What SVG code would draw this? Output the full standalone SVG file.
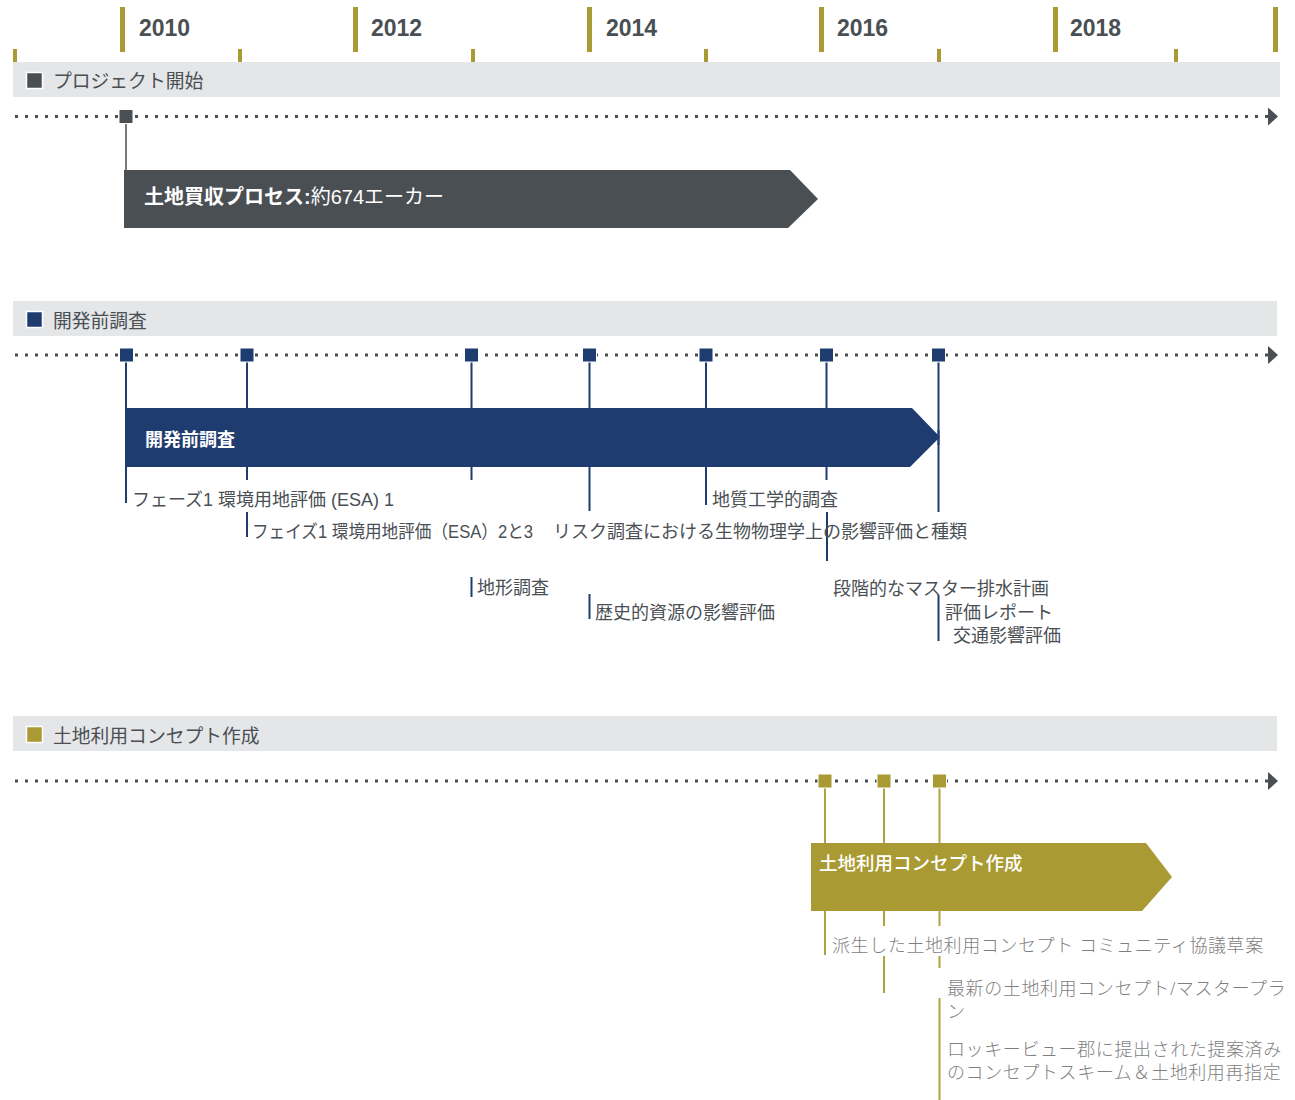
<svg xmlns="http://www.w3.org/2000/svg" width="1295" height="1100" viewBox="0 0 1295 1100">
<style>
.year{font-family:"Liberation Sans",Arial,sans-serif;font-weight:bold;font-size:23px;fill:#4a4f54}
.band{fill:#e5e6e8}
.hdr{font-family:"Liberation Sans","Noto Sans CJK JP",sans-serif;font-size:18.8px;fill:#4a4f54}
.dots{fill:none;stroke:#4a4f54;stroke-width:3;stroke-dasharray:3 7}
.lbl{font-family:"Liberation Sans","Noto Sans CJK JP",sans-serif;font-size:18px;fill:#4a4f54}
.lbl3{font-family:"Liberation Serif","Noto Sans CJK JP",serif;font-size:18px;letter-spacing:0.6px;fill:#7f7f7f;font-weight:300}
.barT{font-family:"Liberation Sans","Noto Sans CJK JP",sans-serif;fill:#ffffff}
.s1{stroke:#4a4f54;stroke-width:1.5}
.s2{stroke:#1f3c70;stroke-width:2}
.s3{stroke:#b0a240;stroke-width:2}
.tkB{fill:#a99a33}
.m1{fill:#4a4f54;stroke:#ffffff;stroke-width:1}
.m2{fill:#1f3c70;stroke:#ffffff;stroke-width:1}
.m3{fill:#a99a33;stroke:#ffffff;stroke-width:1}
</style>
<defs>
<marker id="arr" viewBox="0 0 10 18" refX="0" refY="9" markerWidth="10" markerHeight="18" markerUnits="userSpaceOnUse" orient="auto">
<path d="M0,0 L10,9 L0,18 Z" fill="#4a4f54"/>
</marker>
</defs>
<rect width="1295" height="1100" fill="#ffffff"/>

<g id="axis">
<rect class="tkB" x="120" y="7" width="5" height="45"/>
<rect class="tkB" x="353" y="7" width="5" height="45"/>
<rect class="tkB" x="587" y="7" width="5" height="45"/>
<rect class="tkB" x="819" y="7" width="5" height="45"/>
<rect class="tkB" x="1053" y="7" width="5" height="45"/>
<rect class="tkB" x="1273" y="7" width="5" height="45"/>
<rect class="tkB" x="13" y="49" width="4" height="13"/>
<rect class="tkB" x="238" y="49" width="4" height="13"/>
<rect class="tkB" x="471" y="49" width="4" height="13"/>
<rect class="tkB" x="704" y="49" width="4" height="13"/>
<rect class="tkB" x="937" y="49" width="4" height="13"/>
<rect class="tkB" x="1174" y="49" width="4" height="13"/>
<text class="year" x="139" y="36">2010</text>
<text class="year" x="371" y="36">2012</text>
<text class="year" x="606" y="36">2014</text>
<text class="year" x="837" y="36">2016</text>
<text class="year" x="1070" y="36">2018</text>
</g>

<g id="headers">
<rect class="band" x="13" y="62" width="1267" height="35"/>
<rect x="26.5" y="72.5" width="16" height="16" fill="#4a4f54" stroke="#ffffff" stroke-width="1.5"/>
<text class="hdr" x="53" y="88">プロジェクト開始</text>
<rect class="band" x="13" y="301" width="1264" height="35"/>
<rect x="26.5" y="311.5" width="16" height="16" fill="#1f3c70" stroke="#ffffff" stroke-width="1.5"/>
<text class="hdr" x="53" y="328">開発前調査</text>
<rect class="band" x="13" y="716" width="1264" height="35"/>
<rect x="26.5" y="726.5" width="16" height="16" fill="#a99a33" stroke="#ffffff" stroke-width="1.5"/>
<text class="hdr" x="53" y="743">土地利用コンセプト作成</text>
</g>

<g id="connectors">
<path class="dots" d="M15,116.5 H1268" marker-end="url(#arr)"/>
<path class="dots" d="M15,355 H1268" marker-end="url(#arr)"/>
<path class="dots" d="M15,781 H1268" marker-end="url(#arr)"/>
<line class="s1" x1="126" y1="123" x2="126" y2="170"/>
<line class="s2" x1="126" y1="362" x2="126" y2="503"/>
<line class="s2" x1="247" y1="362" x2="247" y2="480"/>
<line class="s2" x1="471.5" y1="362" x2="471.5" y2="480"/>
<line class="s2" x1="589.5" y1="362" x2="589.5" y2="511"/>
<line class="s2" x1="706" y1="362" x2="706" y2="505"/>
<line class="s2" x1="826.5" y1="362" x2="826.5" y2="480"/>
<line class="s2" x1="938.5" y1="362" x2="938.5" y2="512"/>
<line class="s2" x1="247" y1="512" x2="247" y2="537"/>
<line class="s2" x1="471.5" y1="577" x2="471.5" y2="597"/>
<line class="s2" x1="589.5" y1="594" x2="589.5" y2="619"/>
<line class="s2" x1="827" y1="512" x2="827" y2="561"/>
<line class="s2" x1="938.5" y1="595" x2="938.5" y2="641"/>
<line class="s3" x1="825" y1="788" x2="825" y2="955"/>
<line class="s3" x1="884" y1="788" x2="884" y2="926"/>
<line class="s3" x1="939.5" y1="788" x2="939.5" y2="926"/>
<line class="s3" x1="884" y1="956" x2="884" y2="993"/>
<line class="s3" x1="939.5" y1="956" x2="939.5" y2="968"/>
<line class="s3" x1="939.5" y1="998" x2="939.5" y2="1100"/>
</g>

<g id="milestones1">
<rect class="m1" x="119" y="109.5" width="14" height="14"/>
</g>
<g id="bar1">
<polygon points="124,170 790,170 818,199 788,228 124,228" fill="#4a4f54"/>
<text class="barT" x="144" y="204" font-size="20"><tspan font-weight="bold">土地買収プロセス:</tspan>約674エーカー</text>
</g>

<g id="milestones2">
<rect class="m2" x="119.5" y="348" width="14" height="14"/>
<rect class="m2" x="240" y="348" width="14" height="14"/>
<rect class="m2" x="464.5" y="348" width="14" height="14"/>
<rect class="m2" x="582.5" y="348" width="14" height="14"/>
<rect class="m2" x="699" y="348" width="14" height="14"/>
<rect class="m2" x="819.5" y="348" width="14" height="14"/>
<rect class="m2" x="931.5" y="348" width="14" height="14"/>
</g>
<g id="bar2">
<polygon points="126,408 912,408 940,437 910,467 126,467" fill="#1f3c70"/>
<line class="s2" x1="938.5" y1="430" x2="938.5" y2="445"/>
<text class="barT" x="145" y="446" font-size="18" font-weight="bold">開発前調査</text>
</g>
<g id="labels2">
<text class="lbl" x="132" y="506">フェーズ1 環境用地評価 (ESA) 1</text>
<text class="lbl" x="252" y="538" textLength="281" lengthAdjust="spacingAndGlyphs">フェイズ1 環境用地評価（ESA）2と3</text>
<text class="lbl" x="553" y="538">リスク調査における生物物理学上の影響評価と種類</text>
<text class="lbl" x="477" y="594">地形調査</text>
<text class="lbl" x="595" y="619">歴史的資源の影響評価</text>
<text class="lbl" x="712" y="506">地質工学的調査</text>
<text class="lbl" x="833" y="595">段階的なマスター排水計画</text>
<text class="lbl" x="945" y="619">評価レポート</text>
<text class="lbl" x="953" y="642">交通影響評価</text>
</g>

<g id="milestones3">
<rect class="m3" x="818" y="774" width="14" height="14"/>
<rect class="m3" x="877" y="774" width="14" height="14"/>
<rect class="m3" x="932.5" y="774" width="14" height="14"/>
</g>
<g id="bar3">
<polygon points="811,843 1146,843 1172,877 1142,911 811,911" fill="#a99a33"/>
<text class="barT" x="819" y="870" font-size="18.5" font-weight="500">土地利用コンセプト作成</text>
</g>
<g id="labels3">
<text class="lbl3" x="832" y="952">派生した土地利用コンセプト コミュニティ協議草案</text>
<text class="lbl3" x="947" y="995">最新の土地利用コンセプト/マスタープラ</text>
<text class="lbl3" x="947" y="1018">ン</text>
<text class="lbl3" x="947" y="1056">ロッキービュー郡に提出された提案済み</text>
<text class="lbl3" x="947" y="1079">のコンセプトスキーム＆土地利用再指定</text>
</g>
</svg>
